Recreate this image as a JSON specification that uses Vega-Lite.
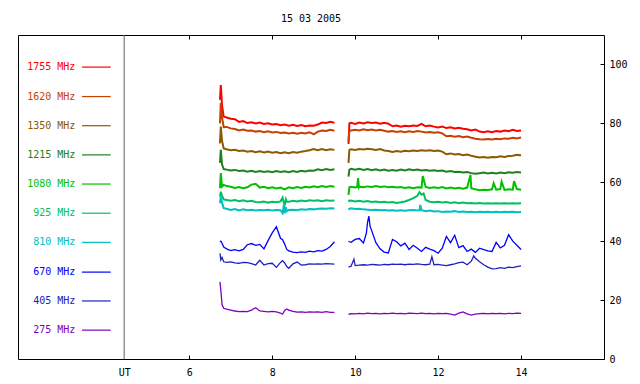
{
"$schema":"https://vega.github.io/schema/vega-lite/v6.json",
"width":586,"height":324,
"autosize":{"type":"none"},
"padding":{"left":18,"top":35,"right":36,"bottom":25},
"background":"white",
"title":{"text":"15 03 2005","font":"DejaVu Sans Mono","fontSize":10,"fontWeight":"normal","color":"black","offset":11,"anchor":"middle"},
"config":{"view":{"stroke":"black","strokeWidth":1},"axis":{"labelFont":"DejaVu Sans Mono","labelFontSize":10,"labelColor":"black","tickColor":"black","domain":false,"grid":false,"title":null}},
"datasets":{
"legend":[{"lab":"1755 MHz","k":"a","y":99.1},{"lab":"1620 MHz","k":"b","y":89.1},{"lab":"1350 MHz","k":"c","y":79.2},{"lab":"1215 MHz","k":"d","y":69.3},{"lab":"1080 MHz","k":"e","y":59.4},{"lab":"925 MHz","k":"f","y":49.5},{"lab":"810 MHz","k":"g","y":39.6},{"lab":"670 MHz","k":"h","y":29.5},{"lab":"405 MHz","k":"i","y":19.7},{"lab":"275 MHz","k":"j","y":9.8}],
"series":[
{"s":1,"t":6.74,"a":88,"b":80,"c":73.2,"d":66.6,"e":58.0,"f":55.1,"g":52.9,"h":39.8,"i":35.9,"j":26.2},
{"s":1,"t":6.76,"a":93,"b":86.9,"c":78.9,"d":71.0,"e":63.1,"f":56.8,"g":55.1,"h":40.0,"i":33.6,"j":23.5},
{"s":1,"t":6.79,"a":86,"b":82,"c":74,"d":66,"e":58.5,"f":55.5,"g":53,"h":39.3,"i":34.5,"j":18.5},
{"s":1,"t":6.83,"a":82.3,"b":78.7,"c":71.5,"d":64.5,"e":59.1,"f":54.2,"g":51.2,"h":38.0,"i":33.0,"j":17.2},
{"s":1,"t":6.9,"a":82.0,"b":78.8,"c":71.2,"d":64.3,"e":58.7,"f":54.0,"g":51.0,"h":37.4,"i":32.8,"j":16.9},
{"s":1,"t":7.0,"a":81.6,"b":78.3,"c":70.9,"d":64.0,"e":58.5,"f":53.7,"g":50.6,"h":36.8,"i":33.0,"j":16.6},
{"s":1,"t":7.1,"a":81.4,"b":78.1,"c":71.0,"d":64.2,"e":58.1,"f":54.0,"g":50.9,"h":37.1,"i":32.6,"j":16.3},
{"s":1,"t":7.2,"a":80.5,"b":77.6,"c":70.6,"d":63.8,"e":58.4,"f":53.6,"g":50.4,"h":36.7,"i":32.5,"j":16.1},
{"s":1,"t":7.3,"a":80.8,"b":77.9,"c":70.8,"d":64.0,"e":58.0,"f":53.9,"g":50.8,"h":37.2,"i":32.8,"j":16.2},
{"s":1,"t":7.4,"a":80.1,"b":77.5,"c":70.4,"d":63.6,"e":58.3,"f":53.5,"g":50.5,"h":38.8,"i":32.7,"j":16.1},
{"s":1,"t":7.5,"a":80.4,"b":77.6,"c":70.6,"d":63.9,"e":59.2,"f":53.7,"g":50.7,"h":39.2,"i":32.4,"j":16.6},
{"s":1,"t":7.6,"a":80.0,"b":77.2,"c":70.2,"d":63.5,"e":59.5,"f":53.3,"g":50.4,"h":38.6,"i":31.9,"j":17.4},
{"s":1,"t":7.7,"a":80.3,"b":77.4,"c":70.5,"d":63.8,"e":58.2,"f":53.2,"g":50.6,"h":38.9,"i":33.5,"j":16.3},
{"s":1,"t":7.8,"a":79.8,"b":77.0,"c":70.1,"d":63.5,"e":58.5,"f":53.5,"g":50.5,"h":37.4,"i":31.9,"j":16.2},
{"s":1,"t":7.9,"a":80.0,"b":77.3,"c":70.4,"d":63.7,"e":58.0,"f":53.1,"g":50.7,"h":40.2,"i":32.4,"j":16.0},
{"s":1,"t":8.0,"a":79.6,"b":76.9,"c":70.0,"d":63.4,"e":58.3,"f":53.4,"g":50.4,"h":42.8,"i":32.5,"j":16.2},
{"s":1,"t":8.1,"a":79.8,"b":77.1,"c":70.3,"d":63.8,"e":57.9,"f":53.2,"g":50.6,"h":44.9,"i":31.1,"j":16.0},
{"s":1,"t":8.2,"a":79.4,"b":76.7,"c":69.9,"d":63.5,"e":58.2,"f":53.5,"g":50.5,"h":41.0,"i":32.8,"j":15.6},
{"s":1,"t":8.25,"f":54.8,"g":49.5,"h":40.5,"i":33.4,"j":15.2},
{"s":1,"t":8.28,"f":53.0,"g":52.3},
{"s":1,"t":8.3,"a":79.6,"b":76.9,"c":70.2,"d":63.7,"e":57.6,"f":52.3,"g":49.5,"h":39.0,"i":32.6,"j":16.5},
{"s":1,"t":8.33,"f":54.2,"g":51.5},
{"s":1,"t":8.35,"f":53.4,"g":50.2,"h":37.2,"i":31.4,"j":17.0},
{"s":1,"t":8.4,"a":79.2,"b":76.6,"c":69.9,"d":63.4,"e":58.3,"f":53.4,"g":50.6,"h":36.7,"i":30.8,"j":16.6},
{"s":1,"t":8.5,"a":79.5,"b":76.8,"c":70.3,"d":63.8,"e":58.0,"f":53.7,"g":50.7,"h":36.3,"i":32.3,"j":16.2},
{"s":1,"t":8.6,"a":79.1,"b":76.5,"c":70.0,"d":63.5,"e":58.4,"f":53.5,"g":50.5,"h":36.1,"i":32.9,"j":15.9},
{"s":1,"t":8.7,"a":79.4,"b":76.8,"c":70.4,"d":63.9,"e":58.1,"f":53.8,"g":50.8,"h":36.4,"i":31.9,"j":16.0},
{"s":1,"t":8.8,"a":79.0,"b":76.6,"c":70.6,"d":63.7,"e":58.5,"f":53.6,"g":50.7,"h":36.2,"i":32.0,"j":15.8},
{"s":1,"t":8.9,"a":79.3,"b":77.0,"c":70.9,"d":64.0,"e":58.2,"f":53.9,"g":50.9,"h":36.6,"i":32.3,"j":16.0},
{"s":1,"t":9.0,"a":79.2,"b":76.3,"c":71.3,"d":63.9,"e":58.6,"f":53.7,"g":50.8,"h":36.4,"i":32.2,"j":15.9},
{"s":1,"t":9.1,"a":79.6,"b":77.2,"c":70.9,"d":64.4,"e":58.3,"f":53.9,"g":51.0,"h":36.8,"i":32.3,"j":16.0},
{"s":1,"t":9.2,"a":80.3,"b":77.6,"c":71.3,"d":64.1,"e":58.7,"f":53.6,"g":51.1,"h":36.6,"i":32.2,"j":15.8},
{"s":1,"t":9.3,"a":80.1,"b":77.4,"c":70.9,"d":64.5,"e":58.4,"f":53.9,"g":51.0,"h":37.2,"i":32.4,"j":16.1},
{"s":1,"t":9.4,"a":80.5,"b":77.8,"c":71.2,"d":64.2,"e":58.7,"f":53.7,"g":51.2,"h":38.2,"i":32.3,"j":15.8},
{"s":1,"t":9.5,"a":80.2,"b":77.5,"c":71.0,"d":64.4,"e":58.5,"f":53.8,"g":51.1,"h":39.8,"i":32.2,"j":15.8},
{"s":2,"t":9.84,"a":73,"b":74,"c":66.6,"d":61.9,"e":55.7,"f":54.0,"g":51.2,"h":40.0,"i":31.4,"j":15.3},
{"s":2,"t":9.86,"a":80.0,"b":77.4,"c":71.0,"d":64.3,"e":58.3,"f":53.6,"g":50.9,"h":39.8,"i":31.3,"j":15.2},
{"s":2,"t":9.9,"a":80.2,"b":77.6,"c":71.2,"d":64.6,"e":58.5,"f":53.8,"g":51.2,"h":39.6,"i":31.5,"j":15.4},
{"s":2,"t":9.97,"i":33.9},
{"s":2,"t":10.0,"a":79.8,"b":77.8,"c":71.0,"d":64.3,"e":58.2,"f":53.5,"g":50.9,"h":40.6,"i":31.7,"j":15.3},
{"s":2,"t":10.05,"e":58.4},
{"s":2,"t":10.07,"e":61.4},
{"s":2,"t":10.09,"e":58.3},
{"s":2,"t":10.1,"a":80.3,"b":77.6,"c":71.3,"d":64.6,"e":58.5,"f":53.7,"g":51.0,"h":40.9,"i":31.9,"j":15.5},
{"s":2,"t":10.2,"a":80.0,"b":78.0,"c":71.1,"d":64.2,"e":58.3,"f":53.4,"g":50.8,"h":39.4,"i":32.0,"j":15.3},
{"s":2,"t":10.27,"h":42.7},
{"s":2,"t":10.3,"a":80.4,"b":77.7,"c":71.4,"d":64.5,"e":58.6,"f":53.6,"g":50.7,"h":46.5,"i":31.9,"j":15.6},
{"s":2,"t":10.33,"h":48.5},
{"s":2,"t":10.36,"h":45.0},
{"s":2,"t":10.4,"a":80.1,"b":77.9,"c":71.2,"d":64.1,"e":58.4,"f":53.3,"g":50.6,"h":43.5,"i":32.1,"j":15.4},
{"s":2,"t":10.5,"a":80.3,"b":77.6,"c":71.0,"d":64.4,"e":58.7,"f":53.5,"g":50.7,"h":39.5,"i":32.0,"j":15.5},
{"s":2,"t":10.6,"a":79.9,"b":77.8,"c":71.3,"d":64.0,"e":58.4,"f":53.2,"g":50.5,"h":37.4,"i":31.9,"j":15.3},
{"s":2,"t":10.7,"a":80.2,"b":77.5,"c":70.8,"d":64.3,"e":58.6,"f":53.4,"g":50.6,"h":36.3,"i":32.1,"j":15.5},
{"s":2,"t":10.8,"a":79.9,"b":77.2,"c":70.6,"d":63.9,"e":58.3,"f":53.1,"g":50.4,"h":36.0,"i":32.0,"j":15.4},
{"s":2,"t":10.9,"a":79.0,"b":77.4,"c":70.3,"d":64.2,"e":58.5,"f":53.3,"g":50.5,"h":40.6,"i":32.2,"j":15.6},
{"s":2,"t":11.0,"a":79.3,"b":77.1,"c":70.6,"d":63.9,"e":58.2,"f":53.0,"g":50.3,"h":39.8,"i":32.1,"j":15.4},
{"s":2,"t":11.1,"a":78.9,"b":77.3,"c":70.4,"d":64.3,"e":58.4,"f":53.2,"g":50.5,"h":38.4,"i":32.2,"j":15.5},
{"s":2,"t":11.2,"a":79.2,"b":77.0,"c":70.7,"d":64.0,"e":58.1,"f":53.5,"g":50.3,"h":39.3,"i":32.0,"j":15.3},
{"s":2,"t":11.3,"a":79.0,"b":77.3,"c":70.5,"d":64.4,"e":58.3,"f":54.0,"g":50.5,"h":37.2,"i":32.2,"j":15.6},
{"s":2,"t":11.4,"a":79.3,"b":77.1,"c":70.8,"d":64.1,"e":58.0,"f":54.6,"g":50.6,"h":38.6,"i":32.1,"j":15.5},
{"s":2,"t":11.5,"a":79.1,"b":77.4,"c":70.6,"d":64.3,"e":58.3,"f":55.4,"g":50.4,"h":37.6,"i":32.3,"j":15.4},
{"s":2,"t":11.55,"f":56.6,"g":50.5},
{"s":2,"t":11.57,"g":52.3},
{"s":2,"t":11.6,"a":79.8,"b":77.2,"c":70.9,"d":64.0,"e":58.2,"f":55.8,"g":50.5,"h":36.5,"i":32.1,"j":15.6},
{"s":2,"t":11.63,"e":62.1},
{"s":2,"t":11.65,"f":56.2},
{"s":2,"t":11.7,"a":79.0,"b":76.9,"c":70.7,"d":64.2,"e":58.4,"f":54.0,"g":50.2,"h":37.9,"i":32.0,"j":15.4},
{"s":2,"t":11.8,"a":79.3,"b":77.1,"c":70.9,"d":63.9,"e":58.1,"f":53.4,"g":50.4,"h":37.3,"i":32.2,"j":15.5},
{"s":2,"t":11.85,"i":34.7},
{"s":2,"t":11.9,"a":78.9,"b":76.8,"c":70.6,"d":64.1,"e":58.3,"f":53.2,"g":50.1,"h":36.8,"i":32.0,"j":15.3},
{"s":2,"t":12.0,"a":78.6,"b":77.0,"c":70.8,"d":63.8,"e":58.1,"f":53.4,"g":50.2,"h":35.9,"i":32.1,"j":15.5},
{"s":2,"t":12.1,"a":78.9,"b":76.6,"c":70.4,"d":64.0,"e":58.4,"f":53.1,"g":49.9,"h":37.6,"i":31.9,"j":15.4},
{"s":2,"t":12.2,"a":78.4,"b":75.6,"c":69.5,"d":63.6,"e":57.9,"f":53.3,"g":50.1,"h":41.6,"i":31.7,"j":15.5},
{"s":2,"t":12.3,"a":78.7,"b":75.8,"c":69.8,"d":63.8,"e":58.2,"f":53.0,"g":50.0,"h":39.5,"i":32.0,"j":15.2},
{"s":2,"t":12.4,"a":78.3,"b":75.5,"c":69.4,"d":63.5,"e":57.9,"f":53.2,"g":50.2,"h":42.0,"i":32.3,"j":14.9},
{"s":2,"t":12.5,"a":78.5,"b":75.7,"c":69.6,"d":63.6,"e":58.1,"f":52.9,"g":49.9,"h":37.8,"i":32.7,"j":15.6},
{"s":2,"t":12.6,"a":78.2,"b":75.3,"c":69.2,"d":63.3,"e":57.8,"f":53.1,"g":50.1,"h":38.5,"i":32.9,"j":16.0},
{"s":2,"t":12.7,"a":78.0,"b":75.5,"c":69.4,"d":63.5,"e":58.2,"f":52.9,"g":49.9,"h":36.5,"i":32.0,"j":15.3},
{"s":2,"t":12.78,"e":62.5},
{"s":2,"t":12.8,"a":77.6,"b":75.1,"c":69.0,"d":63.1,"e":58.0,"f":53.0,"g":50.0,"h":37.3,"i":33.2,"j":14.9},
{"s":2,"t":12.86,"i":35.0},
{"s":2,"t":12.9,"a":77.9,"b":74.8,"c":68.7,"d":62.9,"e":57.6,"f":52.8,"g":49.8,"h":36.2,"i":34.2,"j":15.2},
{"s":2,"t":13.0,"a":77.2,"b":74.6,"c":68.4,"d":63.1,"e":57.3,"f":53.0,"g":50.0,"h":37.6,"i":33.0,"j":15.4},
{"s":2,"t":13.1,"a":77.0,"b":74.5,"c":68.6,"d":63.3,"e":57.5,"f":52.8,"g":49.9,"h":37.1,"i":32.0,"j":15.5},
{"s":2,"t":13.2,"a":77.3,"b":74.7,"c":68.3,"d":63.0,"e":57.4,"f":52.9,"g":50.0,"h":36.7,"i":31.2,"j":15.3},
{"s":2,"t":13.3,"a":77.0,"b":74.5,"c":68.6,"d":63.2,"e":57.6,"f":52.8,"g":49.8,"h":36.5,"i":30.6,"j":15.5},
{"s":2,"t":13.34,"e":59.7},
{"s":2,"t":13.4,"a":77.4,"b":74.8,"c":68.5,"d":63.0,"e":57.5,"f":52.9,"g":50.0,"h":39.6,"i":30.7,"j":15.4},
{"s":2,"t":13.5,"a":77.2,"b":74.6,"c":68.8,"d":63.3,"e":57.7,"f":52.8,"g":49.8,"h":37.7,"i":31.0,"j":15.5},
{"s":2,"t":13.53,"e":60.2},
{"s":2,"t":13.6,"a":77.6,"b":74.9,"c":68.6,"d":63.1,"e":57.4,"f":52.9,"g":50.0,"h":38.6,"i":30.8,"j":15.3},
{"s":2,"t":13.7,"a":77.3,"b":74.8,"c":68.9,"d":63.4,"e":57.6,"f":52.8,"g":49.9,"h":42.2,"i":31.2,"j":15.5},
{"s":2,"t":13.8,"a":77.8,"b":75.1,"c":69.0,"d":63.2,"e":57.5,"f":52.9,"g":50.0,"h":40.0,"i":31.0,"j":15.4},
{"s":2,"t":13.83,"e":60.4},
{"s":2,"t":13.9,"a":77.4,"b":74.9,"c":69.3,"d":63.5,"e":57.7,"f":52.8,"g":49.8,"h":38.6,"i":31.4,"j":15.6},
{"s":2,"t":14.0,"a":77.6,"b":75.2,"c":69.2,"d":63.3,"e":57.5,"f":52.9,"g":49.9,"h":37.2,"i":31.6,"j":15.5}
]},
"resolve":{"axis":{"x":"independent","y":"independent"}},
"layer":[
{"data":{"name":"series"},
 "transform":[{"fold":["a","b","c","d","e","f","g","h","i","j"],"as":["k","v"]},{"filter":"isValid(datum.v)"}],
 "mark":{"type":"line","interpolate":"linear"},
 "encoding":{
  "x":{"field":"t","type":"quantitative","scale":{"domain":[1.87,16],"nice":false,"zero":false},
       "axis":{"orient":"bottom","values":[4.43,6,8,10,12,14],"labelExpr":"datum.value < 5 ? 'UT' : datum.label","tickSize":-4,"labelPadding":12,"tickOpacity":{"condition":{"test":"datum.value < 5","value":0},"value":1}}},
  "y":{"field":"v","type":"quantitative","scale":{"domain":[0,110],"nice":false},
       "axis":{"orient":"right","values":[0,20,40,60,80,100],"tickSize":-4,"labelPadding":9}},
  "color":{"field":"k","type":"nominal","scale":{"domain":["a","b","c","d","e","f","g","h","i","j"],"range":["#ff0000","#c84000","#8c5a00","#208020","#00c000","#00c060","#00c0c0","#0000ff","#2020c0","#8000c0"]},"legend":null},
  "strokeWidth":{"condition":{"test":"indexof(['h','i','j'], datum.k) >= 0","value":1.3},"value":2},
  "detail":{"field":"s","type":"nominal"}
 }},
{"data":{"values":[{}]},
 "mark":{"type":"rule","color":"#606060","strokeWidth":1},
 "encoding":{"x":{"datum":4.43,"type":"quantitative","axis":{"orient":"top","values":[6,8,10,12,14],"labels":false,"tickSize":-4}}}},
{"data":{"name":"legend"},
 "mark":{"type":"text","align":"right","baseline":"middle","font":"DejaVu Sans Mono","fontSize":10},
 "encoding":{"x":{"datum":3.252,"type":"quantitative","axis":null},"y":{"field":"y","type":"quantitative","axis":null},"color":{"field":"k","type":"nominal","legend":null},"text":{"field":"lab"}}},
{"data":{"name":"legend"},
 "mark":{"type":"rule","strokeWidth":1.2},
 "encoding":{"x":{"datum":3.413,"type":"quantitative","axis":null},"x2":{"datum":4.105},"y":{"field":"y","type":"quantitative","axis":null},"color":{"field":"k","type":"nominal","legend":null}}}
]
}
